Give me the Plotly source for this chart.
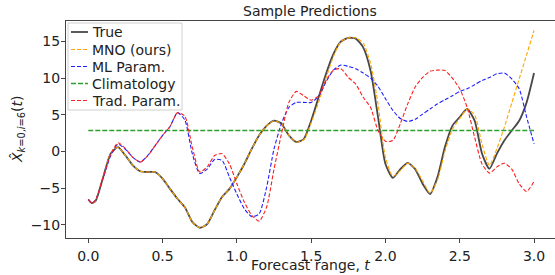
import plotly.graph_objects as go

t = [0.0, 0.025, 0.05, 0.10, 0.15, 0.20, 0.25, 0.30, 0.35, 0.40, 0.45, 0.50, 0.55, 0.60,
     0.65, 0.70, 0.75, 0.80, 0.85, 0.90, 0.95, 1.00, 1.05, 1.10, 1.15, 1.20, 1.25,
     1.30, 1.35, 1.40, 1.45, 1.50, 1.55, 1.60, 1.65, 1.70, 1.75, 1.80, 1.85, 1.90,
     1.95, 2.00, 2.05, 2.10, 2.15, 2.20, 2.25, 2.30, 2.35, 2.40, 2.45, 2.50, 2.55,
     2.60, 2.65, 2.70, 2.75, 2.80, 2.85, 2.90, 2.95, 3.00]

true_vals = [-6.55, -7.05, -6.7, -3.5, -0.3, 0.6, -0.55, -1.9, -2.7, -2.8, -2.8, -3.7, -5.1, -6.45,
             -7.6, -9.6, -10.4, -9.9, -8.0, -6.2, -5.1, -3.5, -1.7, 0.35, 2.2, 3.5, 4.2,
             3.8, 2.2, 1.3, 1.7, 4.2, 7.4, 10.6, 13.3, 15.0, 15.5, 15.4, 14.2, 11.0,
             4.7, -1.7, -3.6, -2.4, -1.55, -2.4, -4.4, -5.8, -3.5, 0.6, 3.5, 4.7, 5.8,
             4.2, -0.3, -2.35, -0.3, 1.5, 2.86, 4.2, 6.7, 10.7]

mno_vals = [-6.55, -7.05, -6.7, -3.5, -0.3, 0.6, -0.55, -1.9, -2.7, -2.8, -2.8, -3.7, -5.1, -6.45,
            -7.6, -9.6, -10.4, -9.9, -8.0, -6.2, -5.1, -3.5, -1.7, 0.35, 2.2, 3.5, 4.2,
            3.8, 2.2, 1.3, 1.6, 3.9, 6.7, 10.0, 13.0, 15.0, 15.5, 15.5, 14.8, 12.0,
            6.5, -0.8, -3.4, -2.6, -1.6, -2.3, -4.0, -5.7, -3.9, 0.0, 3.0, 4.5, 5.8,
            5.0, 1.0, -1.9, 0.4, 3.3, 6.6, 9.9, 13.2, 16.5]

ml_vals = [-6.55, -7.05, -6.6, -3.6, -0.6, 1.0, 0.3, -0.8, -1.45, -0.55, 0.8, 2.2, 3.4, 5.3,
           4.3, -0.3, -3.0, -2.4, -1.1, -1.2, -3.5, -5.8, -7.8, -8.9, -8.5, -4.9, 0.35,
           3.8, 6.0, 6.7, 6.7, 6.7, 7.5, 9.5, 11.1, 11.8, 11.6, 11.3, 10.7, 10.0,
           8.9, 7.2, 5.6, 4.5, 4.1, 4.4, 5.1, 5.8, 6.5, 7.05, 7.6, 8.2, 8.55,
           9.1, 9.7, 10.1, 10.6, 10.7, 9.9, 8.55, 4.7, 1.05]

clim_vals = [2.86] * len(t)

trad_vals = [-6.55, -7.05, -6.6, -3.5, -0.4, 1.2, 0.4, -0.8, -1.45, -0.6, 0.8, 2.2, 3.4, 5.3,
             4.8, 0.6, -2.8, -2.1, -0.55, -0.3, -1.7, -4.4, -6.9, -8.7, -9.5, -7.6, -2.4,
             2.4, 6.7, 8.2, 7.6, 7.0, 7.6, 9.7, 11.1, 11.3, 10.1, 9.2, 7.4, 6.0,
             2.86, 1.4, 1.5, 3.8, 6.5, 8.8, 10.1, 10.95, 11.1, 11.05, 10.0, 8.55, 6.0,
             1.95, -1.7, -2.95, -2.1, -1.6, -2.4, -4.4, -5.45, -4.1]

series_names = ["True", "MNO (ours)", "ML Param.", "Climatology", "Trad. Param."]

x_ticks = [0.0, 0.5, 1.0, 1.5, 2.0, 2.5, 3.0]
x_tick_labels = ["0.0", "0.5", "1.0", "1.5", "2.0", "2.5", "3.0"]
y_ticks = [-10, -5, 0, 5, 10, 15]

FONT = "DejaVu Sans"
FS = 14
TXT = "#222222"

styles = [
    dict(color="rgba(40,40,40,0.85)", width=1.8, dash="solid"),
    dict(color="#FFA500", width=1.1, dash="4px,2px"),
    dict(color="#1f1fff", width=1.1, dash="4px,2px"),
    dict(color="#2ca02c", width=1.4, dash="5px,2px"),
    dict(color="#ff1f1f", width=1.1, dash="4px,2px"),
]
values = [true_vals, mno_vals, ml_vals, clim_vals, trad_vals]

fig = go.Figure()
for name, vals, st in zip(series_names, values, styles):
    line = dict(color=st["color"], width=st["width"], dash=st["dash"])
    if name != "Climatology":
        line.update(shape="spline", smoothing=0.6)
    fig.add_trace(go.Scatter(x=t, y=vals, name=name, mode="lines", line=line, showlegend=False))

# plot-area geometry in pixels (for paper-coordinate placement of legend/labels)
L, R, T, B = 66, 555, 21, 238
PW, PH = R - L, B - T


def px(xp):
    return (xp - L) / PW


def py(yp):
    return (B - yp) / PH


fig.update_layout(
    width=555, height=275,
    margin=dict(l=L, r=555 - R, t=T, b=275 - B),
    paper_bgcolor="white", plot_bgcolor="white",
    font=dict(family=FONT, size=FS, color=TXT),
    showlegend=False,
    xaxis=dict(range=[-0.150, 3.141], tickvals=x_ticks, ticktext=x_tick_labels,
               showline=True, mirror=True, linecolor="#444", linewidth=1,
               ticks="outside", ticklen=4, tickcolor="#444", showgrid=False, zeroline=False,
               automargin=False, ticklabelstandoff=1,
               tickfont=dict(family=FONT, size=FS, color=TXT)),
    yaxis=dict(range=[-11.8, 17.8], tickvals=y_ticks,
               showline=True, mirror=False, linecolor="#444", linewidth=1,
               ticks="outside", ticklen=4, tickcolor="#444", showgrid=False, zeroline=False,
               automargin=False, ticklabelstandoff=-2,
               tickfont=dict(family=FONT, size=FS, color=TXT)),
)

# title
fig.add_annotation(text="Sample Predictions", xref="paper", yref="paper",
                   x=px(310), y=py(11), xanchor="center", yanchor="middle", showarrow=False,
                   font=dict(family=FONT, size=FS, color=TXT))
# x-axis title
fig.add_annotation(text="Forecast range, <i>t</i>", xref="paper", yref="paper",
                   x=px(310), y=py(265), xanchor="center", yanchor="middle", showarrow=False,
                   font=dict(family=FONT, size=FS, color=TXT))
# y-axis title
fig.add_annotation(text="<i>X̂</i><sub><i>k</i>=0,<i>i</i>=6</sub>(<i>t</i>)",
                   xref="paper", yref="paper", x=px(18), y=py(130), xanchor="center", yanchor="middle",
                   textangle=-90, showarrow=False, font=dict(family=FONT, size=FS, color=TXT))

# legend (box, line samples, labels)
fig.add_shape(type="rect", xref="paper", yref="paper", x0=px(68), x1=px(182), y0=py(110), y1=py(23),
              line=dict(color="#d0d0d0", width=1), fillcolor="rgba(255,255,255,0.8)", layer="above")
row_y = [32, 49.5, 66.5, 83.5, 100.5]
for name, st, ry in zip(series_names, styles, row_y):
    fig.add_shape(type="line", xref="paper", yref="paper", x0=px(71), x1=px(88), y0=py(ry), y1=py(ry),
                  line=dict(color=st["color"], width=st["width"], dash=st["dash"]), layer="above")
    fig.add_annotation(text=name, xref="paper", yref="paper", x=px(90), y=py(ry),
                       xanchor="left", yanchor="middle", showarrow=False,
                       font=dict(family=FONT, size=FS, color=TXT))

fig.write_html("out.html", config={"displayModeBar": False},
               post_script="document.body.style.margin='0';document.body.style.padding='0';")
